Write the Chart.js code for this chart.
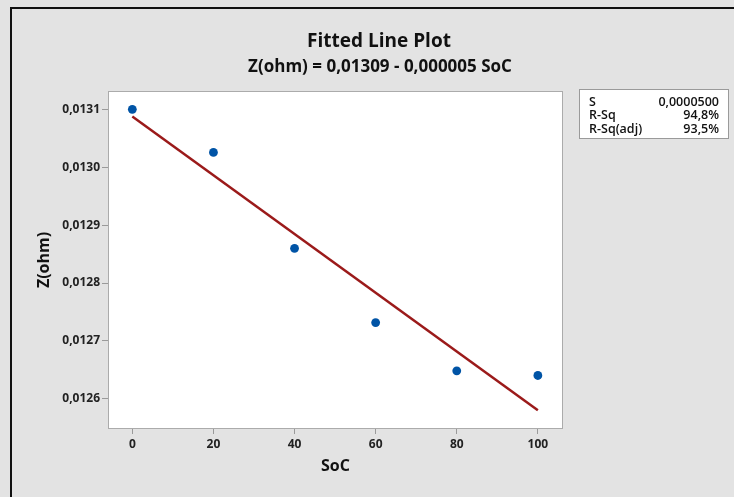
<!DOCTYPE html>
<html>
<head>
<meta charset="utf-8">
<script src="https://cdn.jsdelivr.net/npm/chart.js@4/dist/chart.umd.min.js"></script>
<style>
  html, body { margin: 0; padding: 0; background: #e3e3e3; }
  #wrap { position: relative; width: 734px; height: 497px; }
</style>
</head>
<body>
<div id="wrap"><canvas id="c" width="734" height="497"></canvas></div>
<script>
// Observed measurements
const socValues = [0, 20, 40, 60, 80, 100];
const zValues = [0.0131005, 0.013026, 0.01286, 0.0127315, 0.012648, 0.01264];

// Fitted regression line endpoints
const fitSoC = [0, 100];
const fitZ = [0.013088, 0.012580];

// Axis ticks
const xTicks = [0, 20, 40, 60, 80, 100];
const yTicks = [0.0126, 0.0127, 0.0128, 0.0129, 0.0130, 0.0131];

// Summary statistics table
const statNames = ['S', 'R-Sq', 'R-Sq(adj)'];
const statValues = ['0,0000500', '94,8%', '93,5%'];

const titleText = 'Fitted Line Plot';
const subtitleText = 'Z(ohm) = 0,01309 - 0,000005 SoC';

const FONT = '"Open Sans", "Noto Sans", sans-serif';
const fmtComma = v => v.toFixed(4).replace('.', ',');

const decor = {
  id: 'decor',
  beforeDraw(chart) {
    const ctx = chart.ctx;
    const a = chart.chartArea;
    ctx.save();
    ctx.fillStyle = '#e3e3e3';
    ctx.fillRect(0, 0, chart.width, chart.height);
    // outer frame (left and top edges)
    ctx.fillStyle = '#111';
    ctx.fillRect(10, 7, 2, chart.height - 7);
    ctx.fillRect(10, 7, chart.width - 10, 2);
    // plot background
    ctx.fillStyle = '#ffffff';
    ctx.fillRect(a.left, a.top, a.right - a.left, a.bottom - a.top);
    ctx.restore();
  },
  afterDraw(chart) {
    const ctx = chart.ctx;
    const a = chart.chartArea;
    ctx.save();
    // plot frame
    ctx.strokeStyle = '#ababab';
    ctx.lineWidth = 1;
    ctx.strokeRect(a.left + 0.5, a.top + 0.5, a.right - a.left - 1, a.bottom - a.top - 1);

    // titles
    ctx.fillStyle = '#111';
    ctx.textAlign = 'center';
    ctx.textBaseline = 'middle';
    ctx.font = 'bold 19px ' + FONT;
    ctx.fillText(titleText, 379, 42);
    ctx.font = 'bold 17px ' + FONT;
    ctx.fillText(subtitleText, 380, 67);

    // statistics box
    const bx = 579.5, by = 89.5, bw = 149, bh = 49;
    ctx.fillStyle = '#ffffff';
    ctx.fillRect(bx, by, bw, bh);
    ctx.strokeStyle = '#9a9a9a';
    ctx.strokeRect(bx, by, bw, bh);
    ctx.fillStyle = '#111';
    ctx.font = '600 12.5px ' + FONT;
    statNames.forEach((n, i) => {
      const y = 102 + i * 13.5;
      ctx.textAlign = 'left';
      ctx.fillText(n, 589, y);
      ctx.textAlign = 'right';
      ctx.fillText(statValues[i], 719, y);
    });
    ctx.restore();
  }
};

new Chart(document.getElementById('c'), {
  type: 'scatter',
  data: {
    datasets: [
      {
        type: 'line',
        label: 'Fit',
        data: fitSoC.map((x, i) => ({ x, y: fitZ[i] })),
        borderColor: '#9b1a1a',
        borderWidth: 2.5,
        pointRadius: 0,
        fill: false,
        order: 2
      },
      {
        label: 'Z(ohm)',
        data: socValues.map((x, i) => ({ x, y: zValues[i] })),
        backgroundColor: '#0054a6',
        borderColor: '#0054a6',
        pointRadius: 4.4,
        pointBorderWidth: 0,
        order: 1
      }
    ]
  },
  plugins: [decor],
  options: {
    responsive: false,
    animation: false,
    layout: { padding: { left: 0, top: 91, right: 171, bottom: 0 } },
    plugins: {
      legend: { display: false },
      tooltip: { enabled: false },
      title: { display: false }
    },
    scales: {
      x: {
        type: 'linear',
        min: -6,
        max: 106.2,
        afterFit(s) { s.height = 68; },
        afterBuildTicks(s) { s.ticks = xTicks.map(v => ({ value: v })); },
        grid: { drawOnChartArea: false, drawTicks: true, tickLength: 5, color: '#9a9a9a' },
        border: { display: false },
        ticks: {
          color: '#222',
          padding: 3,
          maxRotation: 0,
          font: { family: FONT, size: 12, weight: 'bold' },
          callback: v => String(v)
        },
        title: {
          display: true,
          text: 'SoC',
          color: '#111',
          font: { family: FONT, size: 16, weight: 'bold' },
          padding: { top: 0, bottom: 21 }
        }
      },
      y: {
        type: 'linear',
        min: 0.0125474,
        max: 0.0131322,
        afterFit(s) { s.width = 108; },
        afterBuildTicks(s) { s.ticks = yTicks.map(v => ({ value: v })); },
        grid: { drawOnChartArea: false, drawTicks: true, tickLength: 6, color: '#9a9a9a' },
        border: { display: false },
        ticks: {
          color: '#222',
          padding: 2,
          font: { family: FONT, size: 12, weight: 'bold' },
          callback: v => fmtComma(v)
        },
        title: {
          display: true,
          text: 'Z(ohm)',
          color: '#111',
          font: { family: FONT, size: 16, weight: 'bold' },
          padding: { top: 35, bottom: 0 }
        }
      }
    }
  }
});
</script>
</body>
</html>
